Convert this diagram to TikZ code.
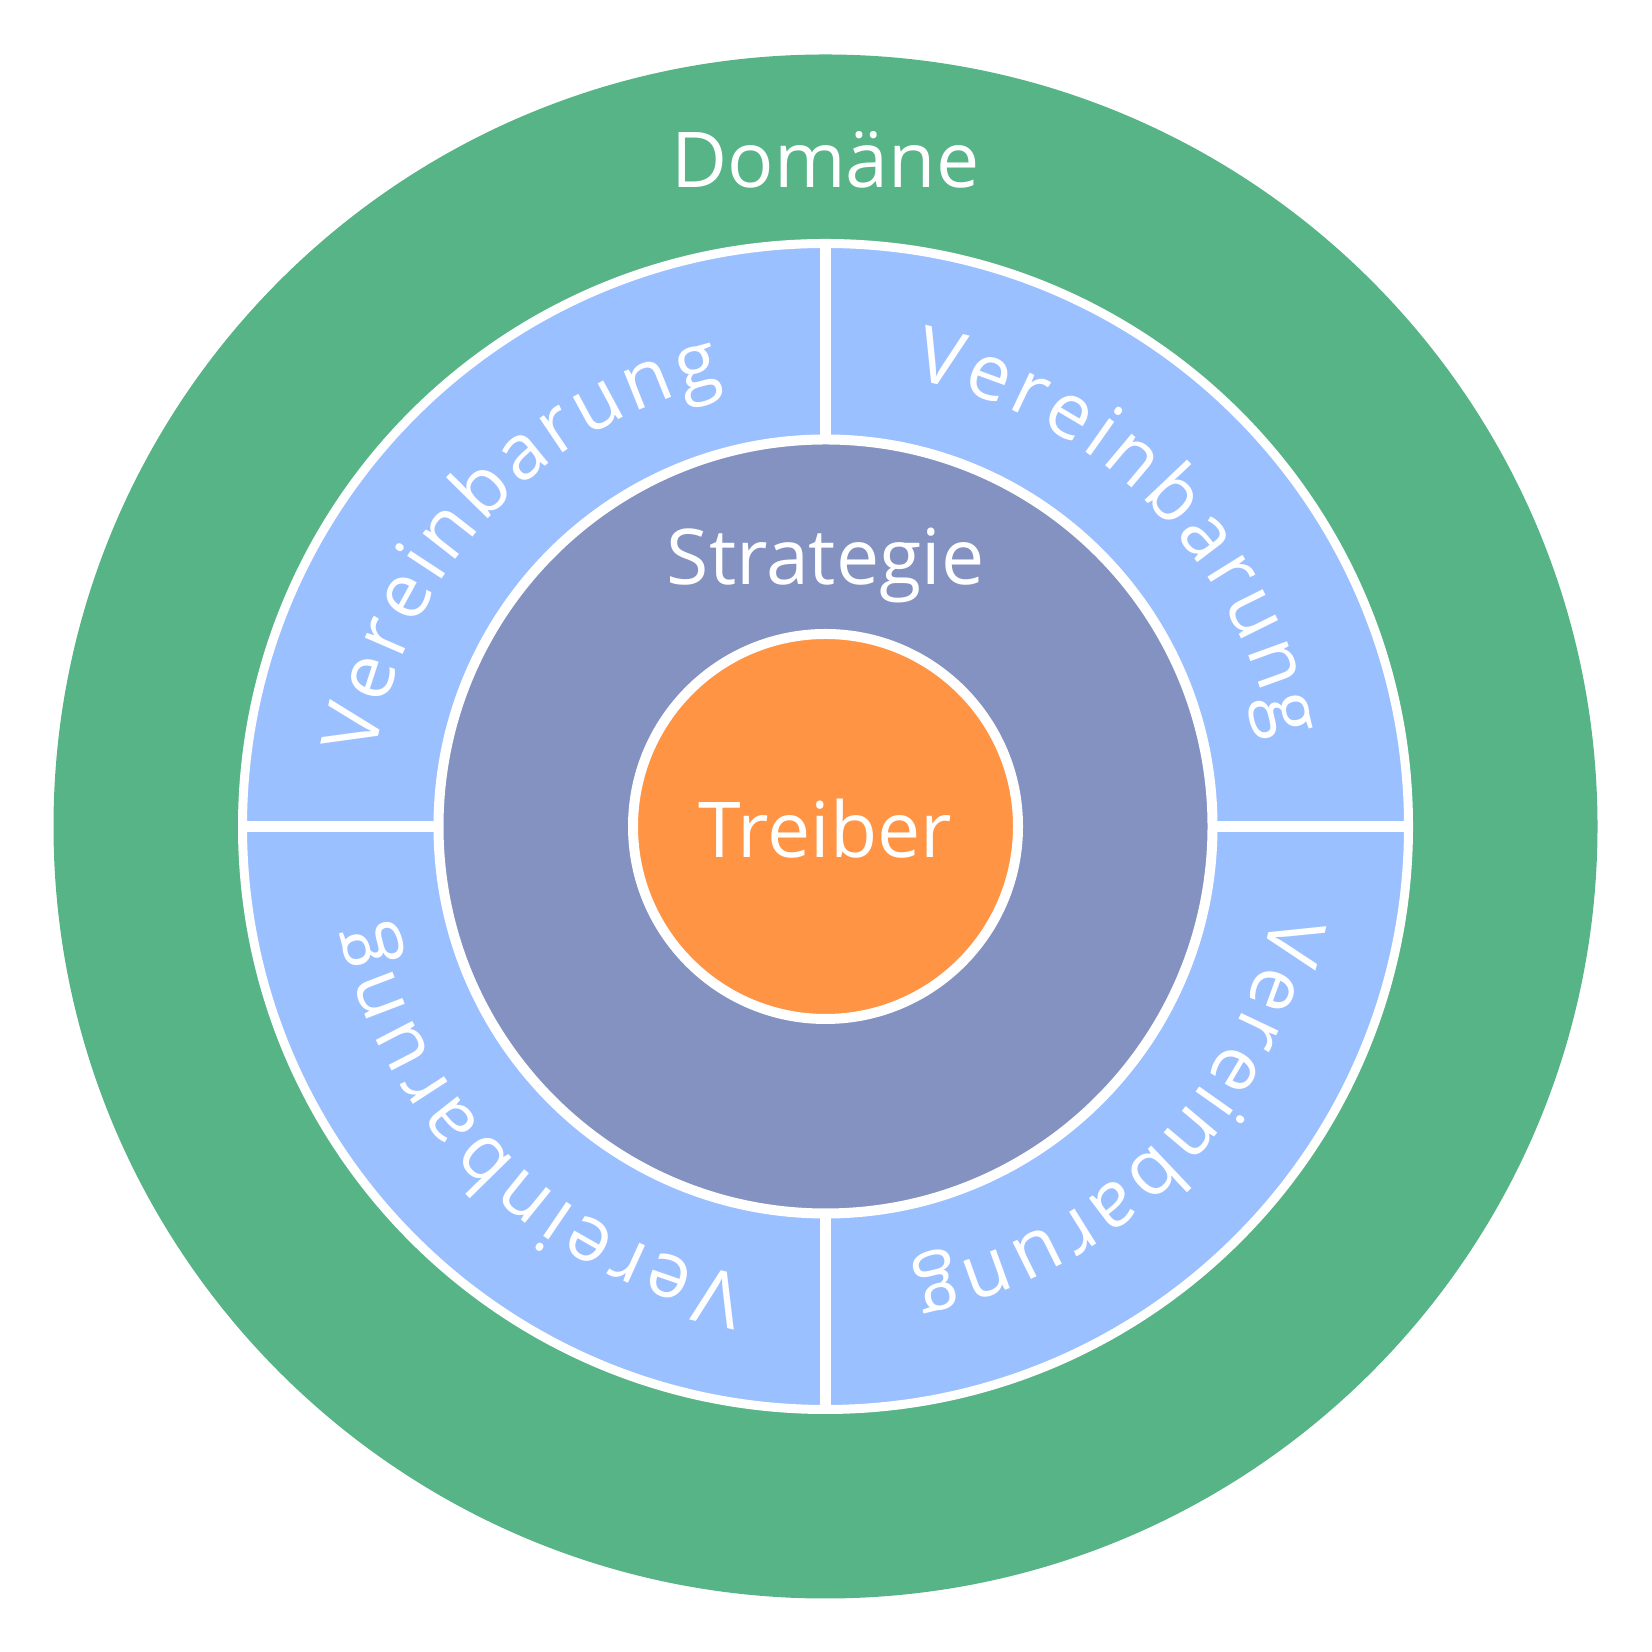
\documentclass[tikz,border=0pt]{standalone}
\usepackage{fontspec}
\setmainfont{Open Sans}
\usetikzlibrary{decorations.text}

\definecolor{domaingreen}{HTML}{57B486}
\definecolor{ringblue}{HTML}{9BC0FF}
\definecolor{strategypurple}{HTML}{8392C1}
\definecolor{driverorange}{HTML}{FF9444}

\newcommand\bigtext{\fontsize{38.5}{46}\selectfont}

\tikzset{
  ringline/.style={draw=white, line width=4.5pt},
  divider/.style={draw=white, line width=5.5pt},
  label/.style={text=white, font=\bigtext, anchor=base, inner sep=0pt},
  arcword/.style={decorate, decoration={text along path, text align=fit to path,
      text={|\bigtext\color{white}|Vereinbarung}}}
}

\begin{document}
\begin{tikzpicture}
  \useasboundingbox (0,0) rectangle (826pt,826pt);
  \coordinate (C) at (412.75pt,412.75pt);

  % domain disc
  \fill[domaingreen] (C) circle[radius=386pt];

  % agreement ring
  \path[fill=ringblue, ringline] (C) circle[radius=291.5pt];
  \coordinate (rt) at ([shift={(90:291.5pt)}]C);
  \coordinate (rb) at ([shift={(-90:291.5pt)}]C);
  \coordinate (rl) at ([shift={(180:291.5pt)}]C);
  \coordinate (rr) at ([shift={(0:291.5pt)}]C);
  \draw[divider] (rt) -- (rb);
  \draw[divider] (rl) -- (rr);

  % strategy disc
  \path[fill=strategypurple, ringline, line width=5pt] (C) circle[radius=193.5pt];

  % driver disc
  \path[fill=driverorange, ringline, line width=5pt] (C) circle[radius=96.25pt];

  % labels
  \node[label] (domain) at (412.75pt,732pt) {Domäne};
  \node[label] (strategy) at (412.75pt,533.5pt) {Strategie};
  \node[label] (driver) at (412.75pt,397pt) {Treiber};

  % curved labels of the four agreement sectors
  \path[arcword] ([shift={(171:228pt)}]C) arc[start angle=171, end angle=103, radius=228pt];
  \path[arcword] ([shift={(79:228pt)}]C) arc[start angle=79, end angle=11, radius=228pt];
  \path[arcword] ([shift={(-11:228pt)}]C) arc[start angle=-11, end angle=-79, radius=228pt];
  \path[arcword] ([shift={(-100:228pt)}]C) arc[start angle=-100, end angle=-168, radius=228pt];
\end{tikzpicture}
\end{document}
